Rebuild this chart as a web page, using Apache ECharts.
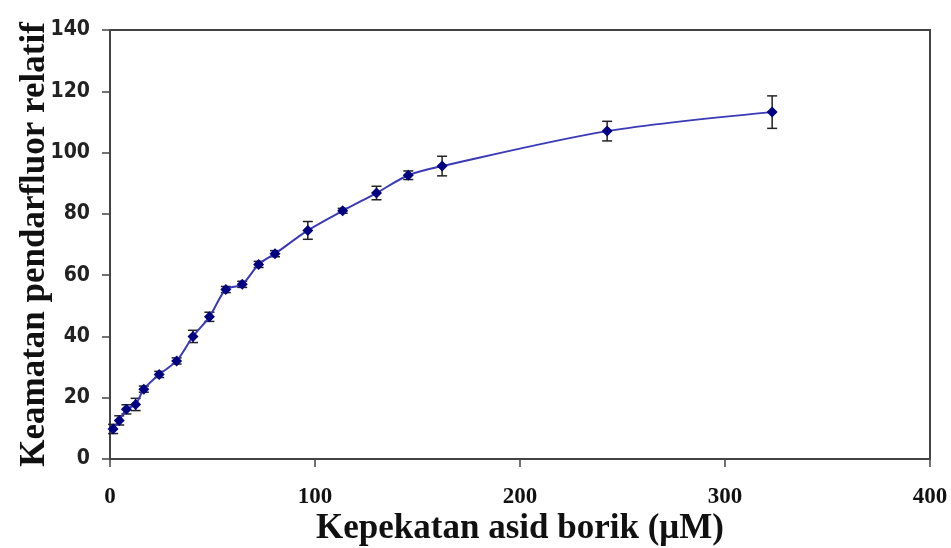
<!DOCTYPE html>
<html>
<head>
<meta charset="utf-8">
<script src="https://cdn.jsdelivr.net/npm/echarts@6/dist/echarts.min.js"></script>
<style>
    html, body { margin: 0; padding: 0; background: #fff; }
    #chart { width: 951px; height: 548px; }
</style>
</head>
<body>
<div id="chart"></div>
<script>
// data
let concentration = [1.5, 4.5, 8, 12.5, 16.5, 24, 32.5, 40.5, 48.5, 56.5, 64.5, 72.5, 80.5, 96.5, 113.5, 130, 145.5, 162, 242.5, 323]
let intensity = [9.8, 12.6, 16.2, 17.8, 22.8, 27.6, 32, 40, 46.4, 55.3, 57, 63.5, 67, 74.6, 81, 86.8, 92.6, 95.6, 107, 113.2]
let errors = [1.5, 1.5, 1.5, 2, 1, 1, 1, 2, 1.5, 1, 1, 1, 1, 2.9, 0.8, 2.2, 1.4, 3.2, 3.2, 5.3]
let xTicks = [0, 100, 200, 300, 400]

let myChart = echarts.init(document.getElementById('chart'))

let points = concentration.map((x, i) => [x, intensity[i]])
let bars = concentration.map((x, i) => [x, intensity[i] - errors[i], intensity[i] + errors[i]])

let option = {
    animation: false,
    grid: { left: 110, right: 21, top: 30, bottom: 89, outerBoundsMode: 'none', containLabel: false },
    xAxis: {
        type: 'value',
        min: 0, max: 400, interval: 100,
        name: 'Kepekatan asid borik (μM)',
        nameLocation: 'middle',
        nameGap: 52,
        nameMoveOverlap: false,
        nameTextStyle: { fontFamily: 'Liberation Serif', fontWeight: 'bold', fontSize: 35, color: '#111' },
        axisLine: { lineStyle: { color: '#444', width: 2 } },
        axisTick: { inside: false, length: 8, lineStyle: { color: '#444', width: 1.5 } },
        axisLabel: {
            margin: 27, fontFamily: 'Liberation Serif', fontWeight: 'bold', fontSize: 23, color: '#111',
            formatter: v => xTicks.indexOf(v) >= 0 ? v : ''
        },
        splitLine: { show: false }
    },
    yAxis: {
        type: 'value',
        min: 0, max: 140, interval: 20,
        name: 'Keamatan pendarfluor relatif',
        nameLocation: 'middle',
        nameGap: 58,
        nameMoveOverlap: false,
        nameTextStyle: { fontFamily: 'Liberation Serif', fontWeight: 'bold', fontSize: 35, color: '#111' },
        axisLine: { show: true, lineStyle: { color: '#444', width: 2 } },
        axisTick: { show: true, length: 8, lineStyle: { color: '#444', width: 1.5 } },
        axisLabel: {
            margin: 20, fontFamily: '"Liberation Sans Narrow", "DejaVu Sans Condensed", "Liberation Sans"',
            fontWeight: 'bold', fontSize: 21, color: '#222'
        },
        splitLine: { show: false }
    },
    series: [
        {
            // error bars
            type: 'custom',
            z: 1,
            data: bars,
            renderItem: function (params, api) {
                let lo = api.coord([api.value(0), api.value(1)])
                let hi = api.coord([api.value(0), api.value(2)])
                let w = 5
                let style = { stroke: '#222', lineWidth: 1.5 }
                return {
                    type: 'group',
                    children: [
                        { type: 'line', shape: { x1: lo[0], y1: lo[1], x2: hi[0], y2: hi[1] }, style: style },
                        { type: 'line', shape: { x1: lo[0] - w, y1: lo[1], x2: lo[0] + w, y2: lo[1] }, style: style },
                        { type: 'line', shape: { x1: hi[0] - w, y1: hi[1], x2: hi[0] + w, y2: hi[1] }, style: style }
                    ]
                }
            }
        },
        {
            type: 'line',
            z: 2,
            data: points,
            smooth: 0.3,
            symbol: 'diamond',
            symbolSize: 11,
            lineStyle: { color: '#3a3ab8', width: 2 },
            itemStyle: { color: '#000080' }
        }
    ]
}
myChart.setOption(option)

// closing frame on top and right of the plot area
let g = myChart.getModel().getComponent('grid').coordinateSystem.getRect()
myChart.setOption({
    graphic: [{
        type: 'polyline',
        shape: { points: [[g.x, g.y], [g.x + g.width, g.y], [g.x + g.width, g.y + g.height]] },
        style: { stroke: '#444', lineWidth: 2, fill: null }
    }]
})
</script>
</body>
</html>
